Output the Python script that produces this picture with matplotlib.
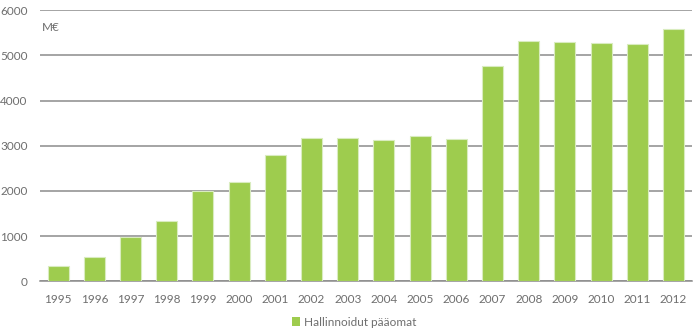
import matplotlib.pyplot as plt
from matplotlib.patches import Patch

years = [str(y) for y in range(1995, 2013)]
capital = [332, 545, 987, 1342, 2006, 2205, 2796, 3179, 3166, 3121,
           3210, 3157, 4766, 5313, 5305, 5269, 5260, 5586]

green = '#9ecc4e'
edge = '#d9ecbf'
grey_text = '#6e6e6e'
grid_col = '#8c8c8c'

plt.rcParams['font.family'] = ['Lato', 'DejaVu Sans']

fig = plt.figure(figsize=(6.97, 3.33), dpi=100)
ax = fig.add_axes([0.0574, 0.1553, 0.935, 0.814])

x = range(len(years))
ax.bar(x, capital, width=0.58, color=green, edgecolor=edge, linewidth=0.8, zorder=3)

ax.set_xlim(-0.5, len(years) - 0.5)
ax.set_ylim(0, 6000)
ax.set_yticks(range(0, 6001, 1000))
ax.set_xticks(list(x))
ax.set_xticklabels(years)
ax.yaxis.grid(True, color=grid_col, linewidth=1.1, zorder=0)
ax.tick_params(axis='both', length=0, labelsize=8.5, colors=grey_text)
ax.tick_params(axis='x', pad=9)
ax.tick_params(axis='y', pad=9)
for side in ['top', 'right', 'left']:
    ax.spines[side].set_visible(False)
ax.spines['bottom'].set_color(grid_col)
ax.spines['bottom'].set_linewidth(1.1)

ax.text(0.003, 0.955, 'M€', transform=ax.transAxes, fontsize=8.5,
        color=grey_text, va='top', ha='left')

handle = Patch(facecolor=green, edgecolor='none')
fig.legend([handle], ['Hallinnoidut pääomat'], loc='center', bbox_to_anchor=(0.508, 0.033),
           frameon=False, fontsize=8.5, labelcolor=grey_text, handlelength=0.7,
           handleheight=0.7, handletextpad=0.3)

fig.savefig('out.png', dpi=100)
